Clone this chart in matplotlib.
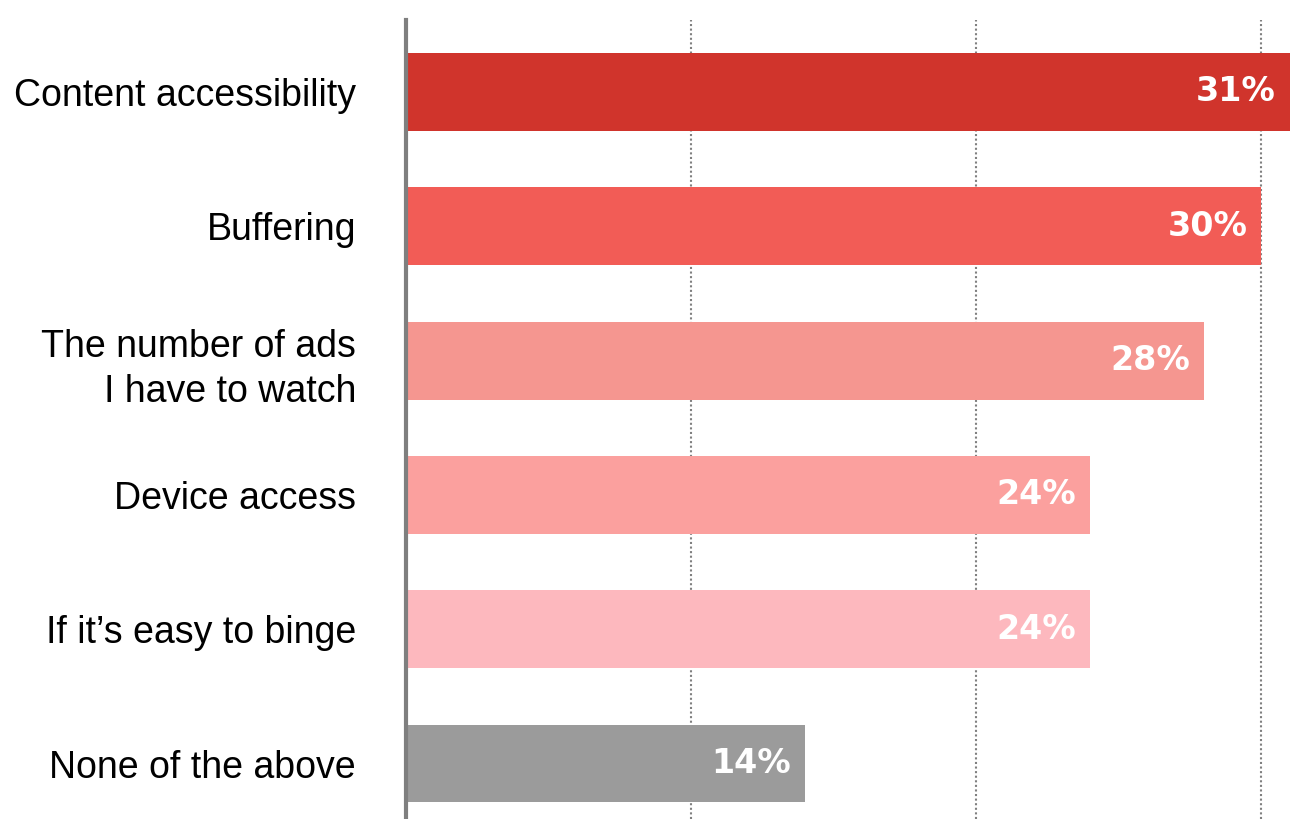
import matplotlib.pyplot as plt

# Dados do gráfico
categorias = [
    "Content accessibility",
    "Buffering",
    "The number of ads\nI have to watch",
    "Device access",
    "If it\u2019s easy to binge",
    "None of the above",
]
valores = [31, 30, 28, 24, 24, 14]
cores = ["#D0342C", "#F25C56", "#F59690", "#FBA09E", "#FDB8BE", "#9B9B9B"]

fig = plt.figure(figsize=(12.91, 8.19), dpi=100)
ax = fig.add_axes([406 / 1291, 0, 885 / 1291, 799 / 819])

pos = list(range(len(categorias)))
ax.barh(pos, valores, height=0.58, color=cores, zorder=2)

# Rótulos de valor dentro das barras
for y, v in zip(pos, valores):
    ax.annotate(f"{v}%", xy=(v, y), xytext=(-10, 0), textcoords="offset points",
                ha="right", va="center", color="white", fontsize=24,
                family="DejaVu Sans", fontweight="bold", zorder=3)

ax.set_xlim(0, 31.05)
ax.set_ylim(5.413, -0.536)

# Linhas de grade pontilhadas
for g in [10, 20, 30]:
    ax.axvline(g, color="#808080", linestyle=(0, (1, 1.2)), linewidth=1.5, zorder=1)

ax.set_xticks([])
ax.set_yticks(pos)
ax.set_yticklabels(categorias, fontsize=27, family="Liberation Sans",
                   ha="right", linespacing=1.32)
ax.tick_params(axis="y", length=0, pad=36)

for s in ["top", "right", "bottom"]:
    ax.spines[s].set_visible(False)
ax.spines["left"].set_color("#7F7F7F")
ax.spines["left"].set_linewidth(3)
ax.spines["left"].set_zorder(4)

plt.savefig("out.png", dpi=100)
